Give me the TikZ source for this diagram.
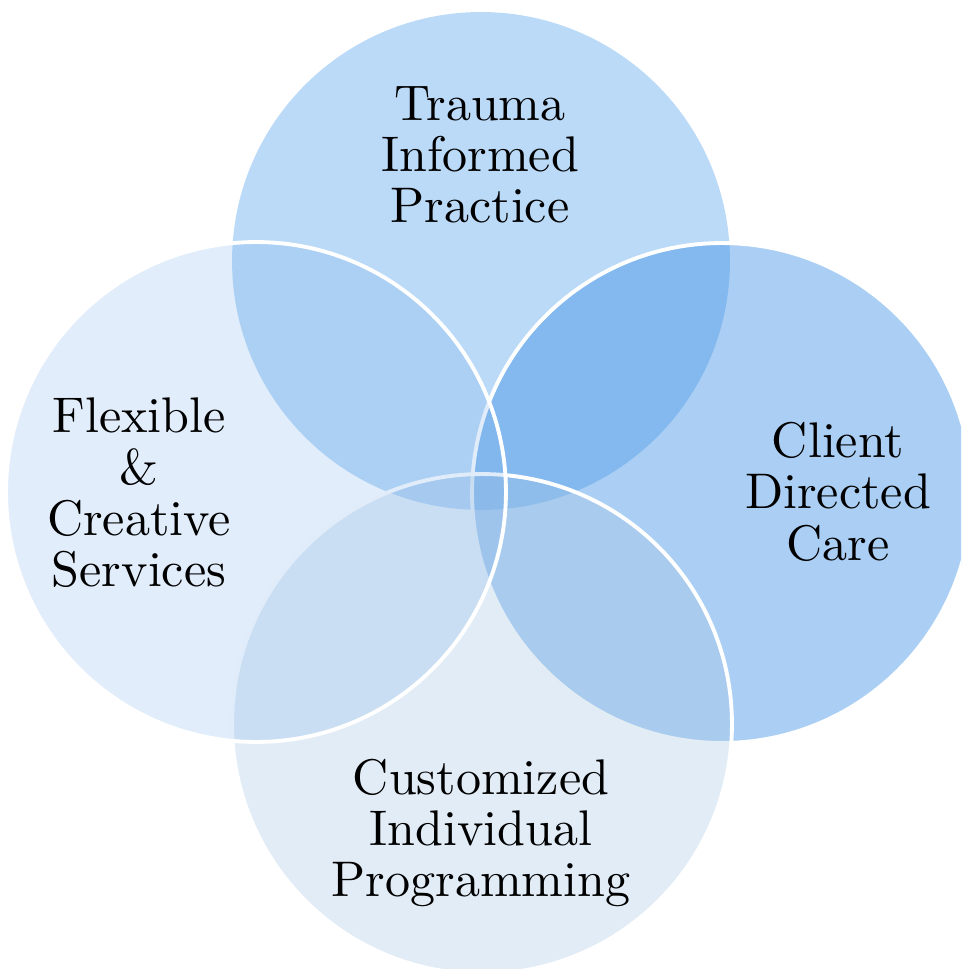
\documentclass[tikz,border=0pt]{standalone}
\usepackage{tikz}
\begin{document}
\begin{tikzpicture}[x=0.02cm,y=-0.02cm,
  ring/.style={circle,inner sep=0pt,minimum size=10cm,draw=white,line width=2.2pt},
  lbl/.style={align=center,anchor=base,inner sep=0pt,scale=2.85,transform shape,
    font=\fontsize{10}{10.25}\selectfont}]
\definecolor{topfill}{RGB}{187,218,248}
\definecolor{rightfill}{RGB}{60,143,229}
\definecolor{bottomfill}{RGB}{164,196,227}
\definecolor{leftfill}{RGB}{125,177,233}
\useasboundingbox (0,0) rectangle (961,969);
\clip (0,0) rectangle (961,969);
% circles, back to front
\node[circle,inner sep=0pt,minimum size=9.96cm,fill=topfill] (ctop) at (481,261) {};
\node[ring,fill=rightfill,fill opacity=0.43] (cright) at (722,493) {};
\node[ring,fill=bottomfill,fill opacity=0.32] (cbottom) at (482,724) {};
\node[ring,fill=leftfill,fill opacity=0.23] (cleft) at (256,492) {};
% labels (anchored at the baseline of their last line)
\node[lbl] (ttop) at (480,223) {Trauma\\Informed\\Practice};
\node[lbl] (tleft) at (139,586.7) {Flexible\\\&\\Creative\\Services};
\node[lbl] (tright) at (838,560) {Client\\Directed\\Care};
\node[lbl] (tbottom) at (481,896.7) {Customized\\Individual\\Programming};
\end{tikzpicture}
\end{document}
